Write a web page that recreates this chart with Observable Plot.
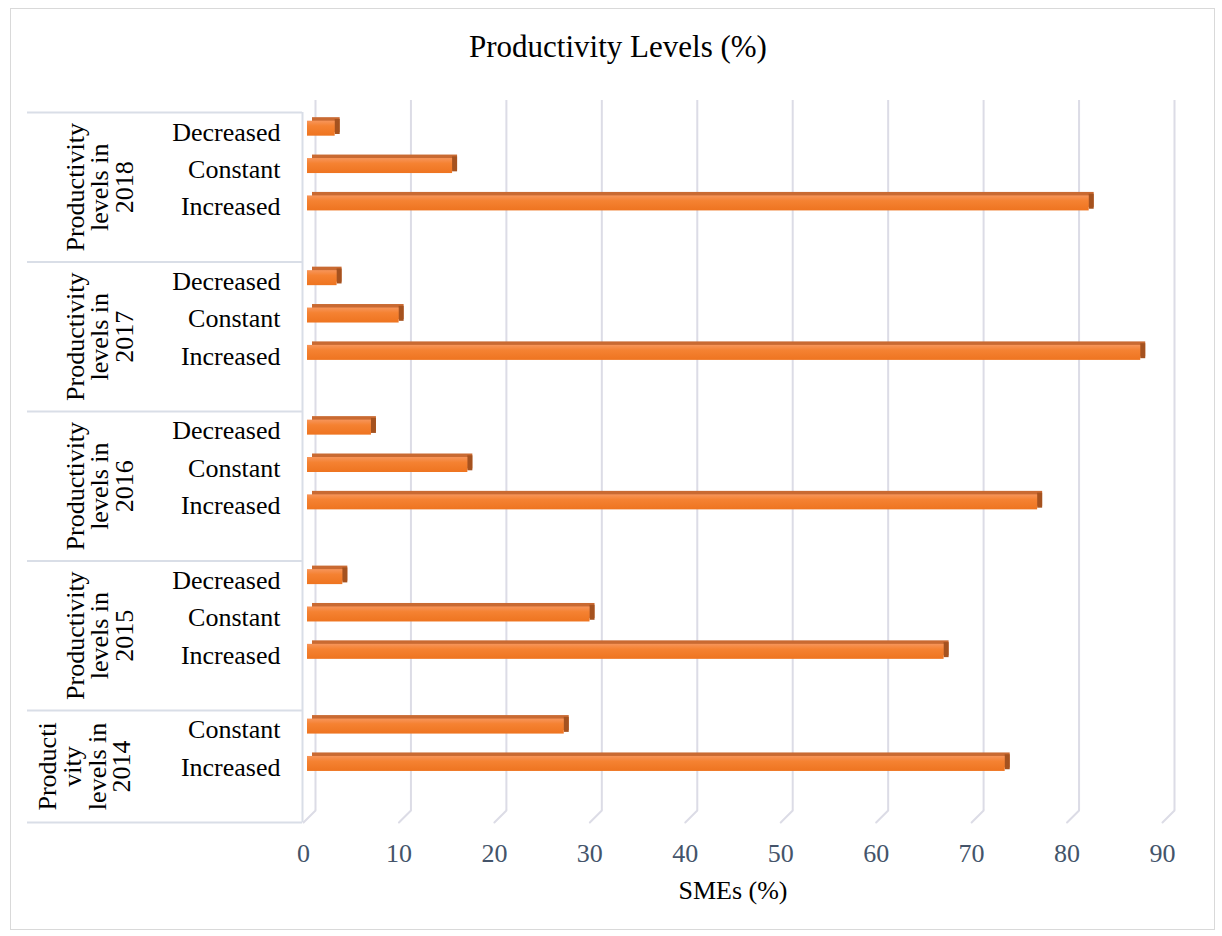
<!DOCTYPE html>
<html>
<head>
<meta charset="utf-8">
<script src="https://cdn.jsdelivr.net/npm/d3@7"></script>
<script src="https://cdn.jsdelivr.net/npm/@observablehq/plot@0.6"></script>
<style>
  body { margin: 0; background: #fff; }
  #wrap { position: relative; width: 1222px; height: 936px; font-family: "Liberation Serif", "Times New Roman", serif; }
  #chart { position: absolute; left: 0; top: 0; }
  #title { position: absolute; left: 7px; width: 1222px; top: 28px; text-align: center; font-size: 31px; line-height: 38px; color: #000; }
  #border { position: absolute; left: 10px; top: 8px; width: 1205px; height: 922px; border: 1px solid #d9d9d9; box-sizing: border-box; pointer-events: none; }
</style>
</head>
<body>
<div id="wrap">
  <div id="chart"></div>
  <div id="title">Productivity Levels (%)</div>
  <div id="border"></div>
</div>
<script>
// ---- data ----
const years = ["2018", "2017", "2016", "2015", "2014"];
const groupLabels = [
  "Productivity\nlevels in\n2018",
  "Productivity\nlevels in\n2017",
  "Productivity\nlevels in\n2016",
  "Productivity\nlevels in\n2015",
  "Producti\nvity\nlevels in\n2014"
];
const levels2018 = ["Decreased", "Constant", "Increased"];
const levels2017 = ["Decreased", "Constant", "Increased"];
const levels2016 = ["Decreased", "Constant", "Increased"];
const levels2015 = ["Decreased", "Constant", "Increased"];
const levels2014 = ["Constant", "Increased"];
const values2018 = [2.9, 15.2, 81.9];
const values2017 = [3.1, 9.6, 87.3];
const values2016 = [6.7, 16.8, 76.5];
const values2015 = [3.7, 29.6, 66.7];
const values2014 = [26.9, 73.1];
const xTicks = [0, 10, 20, 30, 40, 50, 60, 70, 80, 90];
const xLabel = "SMEs (%)";

// ---- table for the library ----
const levelsByYear = [levels2018, levels2017, levels2016, levels2015, levels2014];
const valuesByYear = [values2018, values2017, values2016, values2015, values2014];
const rows = [], slots = [], gapSlots = [], groups = [];
years.forEach((yr, i) => {
  const start = slots.length;
  levelsByYear[i].forEach((lv, j) => {
    const key = yr + "|" + lv;
    slots.push(key);
    rows.push({year: yr, level: lv, slot: key, value: valuesByYear[i][j]});
  });
  const gap = yr + "|";
  slots.push(gap);
  gapSlots.push(gap);
  const n = slots.length - start;
  groups.push({label: groupLabels[i], n, anchor: slots[start + Math.floor((n - 1) / 2)]});
});

const W = 1222, H = 936;
const mTop = 112, mBottom = 114, mLeft = 307, mRight = 56;
const step = (H - mTop - mBottom) / slots.length;
const barInset = (step - 15) / 2;

const font = "Liberation Serif, Times New Roman, serif";
const gridColor = "#dcdce6";
const tableColor = "#d9dee7";

const lineShape = {draw(context, l) { context.moveTo(0, 0); context.lineTo(0, -l); }};

const chart = Plot.plot({
  width: W, height: H,
  marginTop: mTop, marginBottom: mBottom, marginLeft: mLeft, marginRight: mRight,
  style: {fontFamily: font, background: "transparent", overflow: "visible"},
  x: {domain: [0, 90], axis: null},
  y: {domain: slots, axis: null, padding: 0, round: false},
  marks: [
    // back-wall gridlines
    Plot.ruleX(xTicks, {x: d => d, dx: 8, dy: -12, stroke: gridColor, strokeWidth: 2}),
    // floor diagonals
    Plot.vector(xTicks, {x: d => d, frameAnchor: "bottom", dx: -4, length: 17, rotate: 45, anchor: "start", shape: lineShape, stroke: gridColor, strokeWidth: 2}),
    // category table lines
    Plot.ruleX([0], {x: d => d, dx: -5, stroke: tableColor, strokeWidth: 2}),
    Plot.ruleY([slots[0]], {y: d => d, dy: -step / 2, insetLeft: -(mLeft - 27), insetRight: (W - mLeft - mRight) + 5, stroke: tableColor, strokeWidth: 2}),
    Plot.ruleY(gapSlots, {y: d => d, dy: step / 2, insetLeft: -(mLeft - 27), insetRight: (W - mLeft - mRight) + 5, stroke: tableColor, strokeWidth: 2}),
    // 3D bars: top face, side face, front face
    Plot.barX(rows, {x: "value", y: "slot", insetTop: barInset, insetBottom: barInset, dx: 5, dy: -6, fill: "#c96a32"}),
    Plot.barX(rows, {x1: "value", x2: "value", y: "slot", insetTop: barInset, insetBottom: barInset, insetRight: -5, dy: -4.2, fill: "#a5521f"}),
    Plot.barX(rows, {x: "value", y: "slot", insetTop: barInset, insetBottom: barInset, dy: -2.5, fill: "url(#frontGrad)"}),
    // category labels
    Plot.text(rows, {y: "slot", text: "level", frameAnchor: "left", dx: -27, dy: 1, textAnchor: "end", lineAnchor: "middle", fontSize: 26, fill: "#000"}),
    // group labels
    Plot.text(groups.filter(g => g.n === 4), {y: "anchor", text: "label", frameAnchor: "left", textAnchor: "middle", lineAnchor: "middle", dx: -207, dy: step / 2, rotate: -90, lineHeight: 0.95, fontSize: 26, fill: "#000"}),
    Plot.text(groups.filter(g => g.n === 3), {y: "anchor", text: "label", frameAnchor: "left", textAnchor: "middle", lineAnchor: "middle", dx: -222, dy: 0, rotate: -90, lineHeight: 0.95, fontSize: 26, fill: "#000"}),
    // x tick labels
    Plot.text(xTicks, {x: d => d, text: d => String(d), frameAnchor: "bottom", lineAnchor: "middle", dx: -4, dy: 31, fontSize: 26, fill: "#44546a"}),
    // x axis title
    Plot.text([xLabel], {text: d => d, frameAnchor: "bottom", lineAnchor: "middle", dx: -4, dy: 68, fontSize: 26, fill: "#000"})
  ]
});

// gradient for bar front faces
const ns = "http://www.w3.org/2000/svg";
const defs = document.createElementNS(ns, "defs");
defs.innerHTML = `<linearGradient id="frontGrad" x1="0" y1="0" x2="0" y2="1">
  <stop offset="0%" stop-color="#f7955a"/>
  <stop offset="35%" stop-color="#f58232"/>
  <stop offset="100%" stop-color="#ee7420"/>
</linearGradient>`;
chart.insertBefore(defs, chart.firstChild);

document.getElementById("chart").appendChild(chart);
</script>
</body>
</html>
